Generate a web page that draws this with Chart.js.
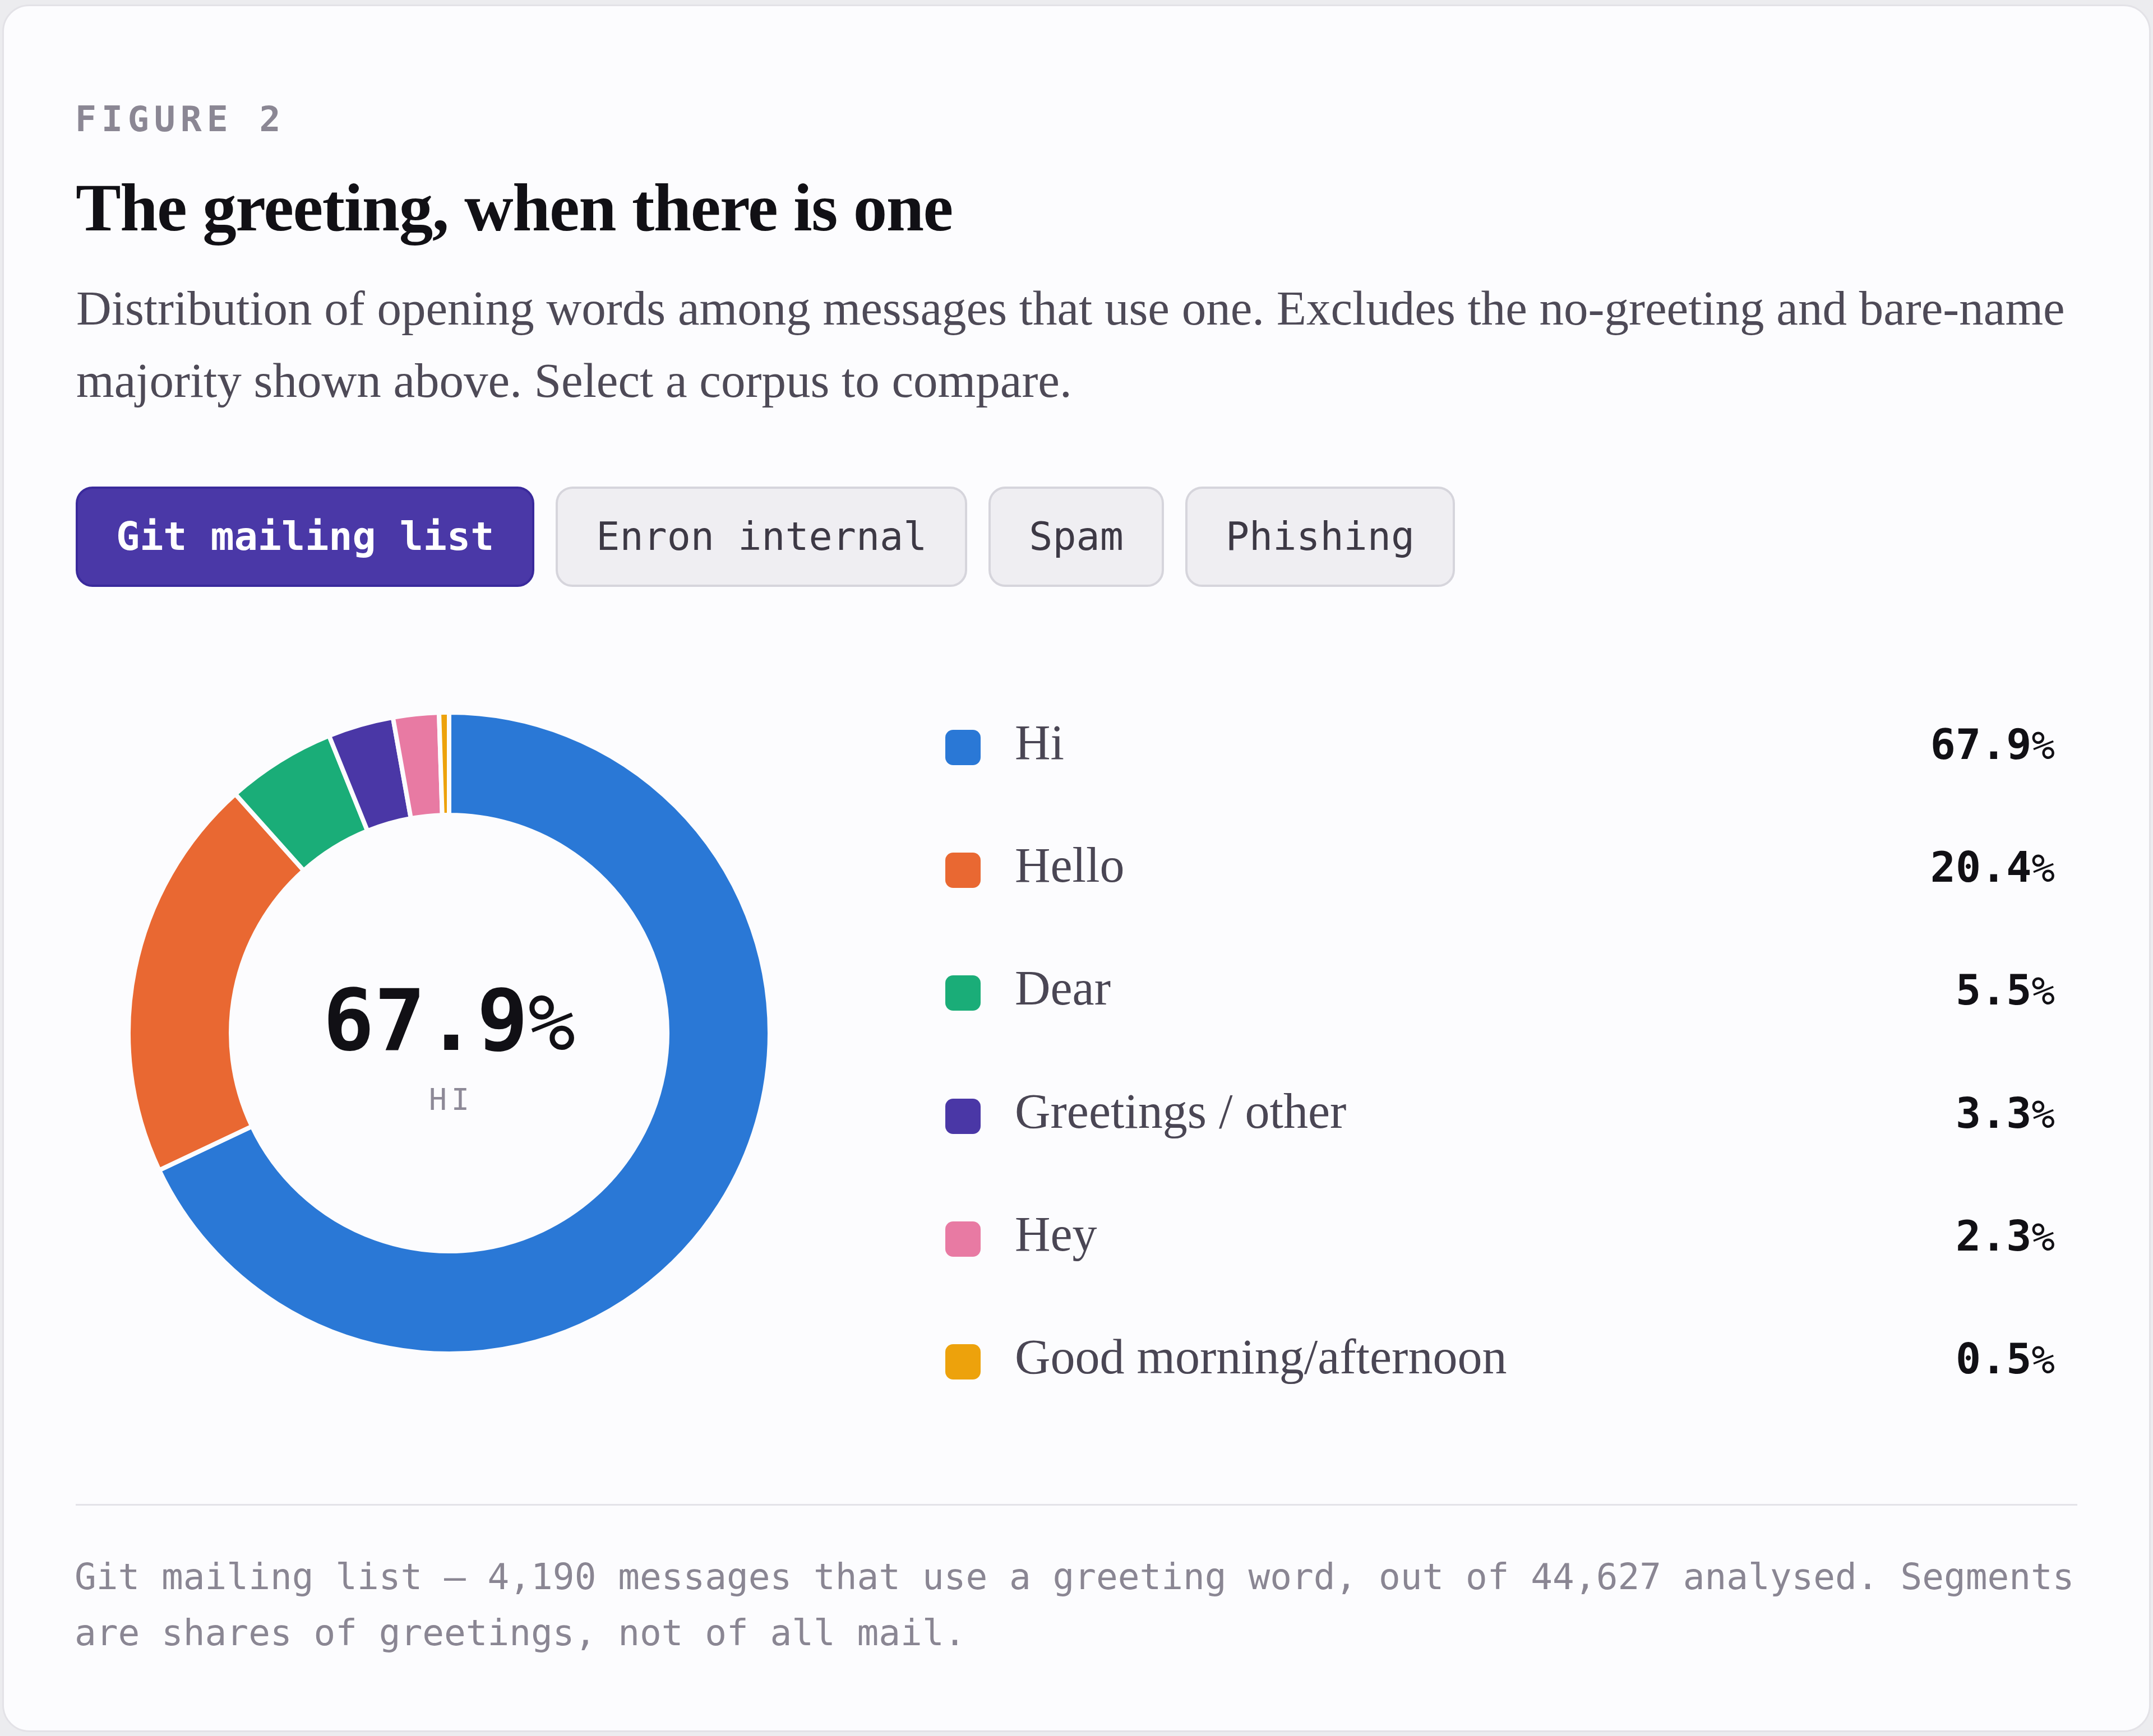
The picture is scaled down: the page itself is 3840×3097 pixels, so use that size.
<!DOCTYPE html>
<html>
<head>
<meta charset="utf-8">
<script src="https://cdn.jsdelivr.net/npm/chart.js@4.4.1/dist/chart.umd.min.js"></script>
<style>
  html, body { margin:0; padding:0; width:3840px; height:3097px; overflow:hidden; background:#ececef; }
  .card { position:absolute; left:4px; top:8px; width:3826px; height:3076px; background:#fcfcfe;
          border:3px solid #e3e2e7; border-radius:48px; }
  .abs { position:absolute; white-space:nowrap; }
  .mono { font-family:"DejaVu Sans Mono", monospace; }
  .serif { font-family:"Liberation Serif", "Times New Roman", serif; }
  #eyebrow { left:134px; top:181px; font-size:63px; line-height:63px; font-weight:700; letter-spacing:9px; color:#8b8794; }
  #title { left:135px; top:310px; font-size:121px; line-height:121px; font-weight:700; letter-spacing:-1.45px; color:#111015; }
  #subtitle { left:136px; top:485px; width:3570px; white-space:normal; font-size:87px; line-height:129px; color:#4e4a57; }
  #buttons { position:absolute; left:135px; top:868px; height:179px; display:flex; gap:38px; }
  .btn { box-sizing:border-box; height:179px; padding:0 68px; border:4px solid #d6d5dc; background:#efeef2;
         border-radius:30px; font-family:"DejaVu Sans Mono", monospace; font-size:70px; line-height:171px;
         color:#3d3945; white-space:nowrap; }
  .btn.active { background:#4a38a7; border-color:#3a2a9c; color:#ffffff; font-weight:700; }
  #chartWrap { position:absolute; left:225px; top:1267px; width:1152px; height:1152px; }
  #centerVal { left:401px; top:1745px; width:800px; text-align:center; font-size:152px; line-height:152px; font-weight:700; color:#111015; }
  #centerVal span { font-weight:400; font-size:0.92em; }
  #centerLbl { left:601px; top:1935px; width:400px; text-align:center; font-size:53px; line-height:53px; color:#8d8997; letter-spacing:8px; padding-left:8px; box-sizing:border-box; }
  .row { position:absolute; left:1686px; width:1979px; height:63px; }
  .sw { position:absolute; left:0; top:0; width:63px; height:63px; border-radius:14px; }
  .lab { position:absolute; left:124px; top:-21px; font-size:88px; line-height:88px; color:#4a4654; white-space:nowrap; }
  .val { position:absolute; right:0; top:-11px; font-size:75px; line-height:75px; font-weight:700; color:#111015; white-space:nowrap; }
  .val span { font-weight:400; font-size:0.92em; }
  #rule { position:absolute; left:135px; top:2683px; width:3570px; height:3px; background:#e3e2e8; }
  #foot { left:133px; top:2763px; width:3600px; white-space:normal; font-size:64.4px; line-height:100px; color:#8a8693; }
</style>
</head>
<body>
<div class="card"></div>
<div id="eyebrow" class="abs mono">FIGURE 2</div>
<div id="title" class="abs serif">The greeting, when there is one</div>
<div id="subtitle" class="abs serif">Distribution of opening words among messages that use one. Excludes the no-greeting and bare-name majority shown above. Select a corpus to compare.</div>
<div id="buttons"></div>
<div id="chartWrap"><canvas id="donut" width="1152" height="1152" style="width:1152px;height:1152px;"></canvas></div>
<div id="centerVal" class="abs mono"></div>
<div id="centerLbl" class="abs mono"></div>
<div id="legend"></div>
<div id="rule"></div>
<div id="foot" class="abs mono">Git mailing list — 4,190 messages that use a greeting word, out of 44,627 analysed. Segments are shares of greetings, not of all mail.</div>

<script>
const corpora = ["Git mailing list", "Enron internal", "Spam", "Phishing"];
const activeCorpus = 0;
const greetingLabels = ["Hi", "Hello", "Dear", "Greetings / other", "Hey", "Good morning/afternoon"];
const greetingShares = [67.9, 20.4, 5.5, 3.3, 2.3, 0.5];
const greetingColors = ["#2a78d6", "#e96832", "#1aad78", "#4a37a6", "#e87aa3", "#eda20c"];

// buttons
const bwrap = document.getElementById('buttons');
corpora.forEach((c, i) => {
  const b = document.createElement('div');
  b.className = 'btn' + (i === activeCorpus ? ' active' : '');
  b.textContent = c;
  bwrap.appendChild(b);
});

// legend rows
const leg = document.getElementById('legend');
const rowTop0 = 1302, rowStep = 219.2;
greetingLabels.forEach((lab, i) => {
  const r = document.createElement('div');
  r.className = 'row';
  r.style.top = (rowTop0 + i * rowStep) + 'px';
  r.innerHTML = '<div class="sw" style="background:' + greetingColors[i] + '"></div>' +
    '<div class="lab serif">' + lab + '</div>' +
    '<div class="val mono">' + greetingShares[i].toFixed(1) + '<span>%</span></div>';
  leg.appendChild(r);
});

// center label
document.getElementById('centerVal').innerHTML = greetingShares[0].toFixed(1) + '<span>%</span>';
document.getElementById('centerLbl').textContent = greetingLabels[0].toUpperCase();

new Chart(document.getElementById('donut'), {
  type: 'doughnut',
  data: {
    labels: greetingLabels,
    datasets: [{
      data: greetingShares,
      backgroundColor: greetingColors,
      borderColor: '#fcfcfe',
      borderWidth: 8,
      hoverOffset: 0
    }]
  },
  options: {
    responsive: false,
    maintainAspectRatio: false,
    devicePixelRatio: 1,
    animation: false,
    cutout: '68%',
    layout: { padding: 0 },
    plugins: { legend: { display: false }, tooltip: { enabled: false } },
    events: []
  }
});
</script>
</body>
</html>
